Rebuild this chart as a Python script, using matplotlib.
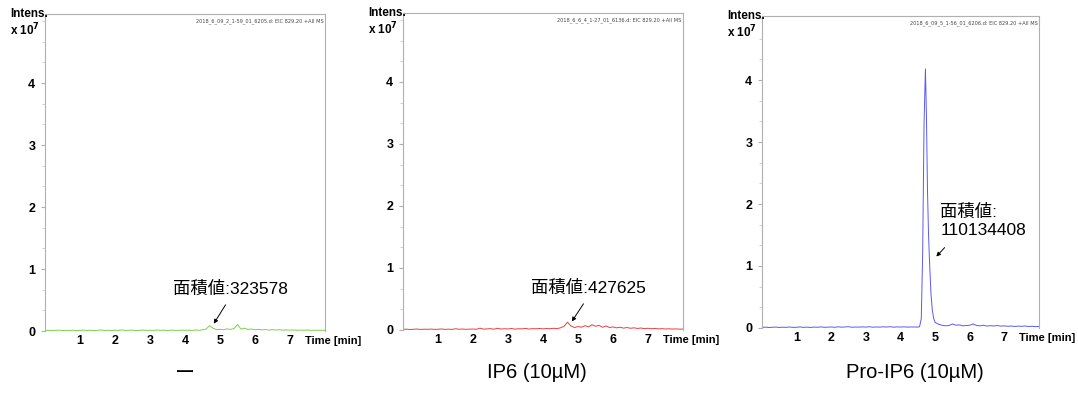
import numpy as np
import matplotlib
matplotlib.use("Agg")
import matplotlib.pyplot as plt
from matplotlib.ticker import AutoMinorLocator

# retention time grid (min) and EIC intensities (x 10^7)
time_grid = np.round(np.arange(0, 8.01, 0.1), 1)

green_int = [0.008, 0.012, 0.006, 0.010, 0.014, 0.007, 0.011, 0.009, 0.013, 0.006,
             0.010, 0.015, 0.008, 0.012, 0.007, 0.011, 0.016, 0.009, 0.012, 0.008,
             0.013, 0.010, 0.017, 0.009, 0.012, 0.014, 0.008, 0.011, 0.015, 0.010,
             0.012, 0.009, 0.016, 0.011, 0.013, 0.008, 0.014, 0.012, 0.010, 0.015,
             0.011, 0.014, 0.009, 0.016, 0.012, 0.018, 0.030, 0.085, 0.045, 0.022,
             0.028, 0.020, 0.035, 0.025, 0.040, 0.105, 0.030, 0.045, 0.025, 0.032,
             0.020, 0.028, 0.018, 0.024, 0.015, 0.022, 0.016, 0.020, 0.013, 0.018,
             0.014, 0.017, 0.011, 0.015, 0.012, 0.016, 0.010, 0.013, 0.011, 0.012,
             0.010]

red_int = [0.010, 0.014, 0.008, 0.012, 0.016, 0.009, 0.013, 0.011, 0.015, 0.010,
           0.012, 0.017, 0.010, 0.014, 0.009, 0.020, 0.012, 0.016, 0.011, 0.014,
           0.015, 0.012, 0.030, 0.014, 0.018, 0.022, 0.013, 0.028, 0.016, 0.020,
           0.017, 0.024, 0.014, 0.020, 0.018, 0.026, 0.015, 0.022, 0.019, 0.025,
           0.018, 0.024, 0.020, 0.028, 0.022, 0.035, 0.060, 0.125, 0.065, 0.040,
           0.055, 0.045, 0.070, 0.050, 0.085, 0.060, 0.075, 0.045, 0.065, 0.040,
           0.050, 0.035, 0.045, 0.030, 0.040, 0.028, 0.035, 0.025, 0.032, 0.022,
           0.028, 0.020, 0.025, 0.018, 0.022, 0.016, 0.020, 0.015, 0.018, 0.014,
           0.015]

blue_time = list(np.round(np.arange(0, 4.51, 0.1), 1)) + \
    [4.55, 4.60, 4.64, 4.68, 4.72, 4.75, 4.78, 4.81, 4.84, 4.88, 4.92, 4.96, 5.00] + \
    list(np.round(np.arange(5.1, 8.01, 0.1), 1))
blue_int = [0.010, 0.014, 0.008, 0.012, 0.015, 0.009, 0.013, 0.011, 0.016, 0.010,
            0.012, 0.017, 0.010, 0.014, 0.009, 0.015, 0.012, 0.018, 0.011, 0.014,
            0.016, 0.012, 0.019, 0.013, 0.017, 0.021, 0.012, 0.016, 0.014, 0.018,
            0.015, 0.020, 0.013, 0.017, 0.014, 0.019, 0.016, 0.021, 0.013, 0.018,
            0.015, 0.019, 0.014, 0.017, 0.016, 0.015,
            0.02, 0.15, 1.2, 3.3, 4.18, 3.4, 2.2, 1.5, 1.05, 0.55, 0.28, 0.15, 0.09,
            0.060, 0.045, 0.035, 0.040, 0.065, 0.045, 0.050, 0.035, 0.040, 0.045,
            0.065, 0.040, 0.035, 0.045, 0.030, 0.038, 0.032, 0.040, 0.030, 0.035,
            0.028, 0.032, 0.025, 0.030, 0.027, 0.033, 0.024, 0.028, 0.022, 0.025]

headers = ["2018_6_09_2_1-59_01_6205.d: EIC 829.20 +All MS",
           "2018_6_6_4_1-27_01_6136.d: EIC 829.20 +All MS",
           "2018_6_09_5_1-56_01_6206.d: EIC 829.20 +All MS"]
area_labels = ["面積値:323578", "面積値:427625", "面積値:\n110134408"]
conditions = ["ー", "IP6 (10µM)", "Pro-IP6 (10µM)"]
colors = ["#7ccf4e", "#e8403f", "#5a5af0"]

W, H = 1078, 405
fig = plt.figure(figsize=(W / 100, H / 100), dpi=100)

# axes boxes in pixels: left, top, right, bottom
boxes = [(45, 14, 325, 331), (403, 13, 683, 330), (762, 16, 1039, 328)]
# annotation: text pos (data), arrow start (data), arrow tip (data)
ann = [((3.65, 0.68), (5.2, 0.46), (4.78, 0.08)),
       ((3.65, 0.68), (5.2, 0.46), (4.78, 0.1)),
       ((5.15, 1.73), (5.33, 1.33), (4.98, 1.12))]

label_font = ["Liberation Sans", "Noto Sans CJK JP"]
series = [(time_grid, green_int), (time_grid, red_int), (blue_time, blue_int)]

for k, (l, t, r, b) in enumerate(boxes):
    ax = fig.add_axes([l / W, 1 - b / H, (r - l) / W, (b - t) / H])
    x, y = series[k]
    ax.plot(x, y, color=colors[k], lw=0.7)
    ax.set_xlim(0, 8)
    ax.set_ylim(0, (b - t) / 62.0)
    for side in ["left", "top", "right"]:
        ax.spines[side].set_color("#b0b0b0")
        ax.spines[side].set_linewidth(0.8)
    ax.spines["bottom"].set_visible(False)
    ax.set_xticks([1, 2, 3, 4, 5, 6, 7])
    ax.set_yticks([0, 1, 2, 3, 4])
    ax.yaxis.set_minor_locator(AutoMinorLocator(3))
    ax.tick_params(axis="x", length=0, pad=3)
    ax.tick_params(axis="y", which="major", length=3, color="#b0b0b0", pad=4)
    ax.tick_params(axis="y", which="minor", length=2, color="#c8c8c8")
    for lab in ax.get_xticklabels() + ax.get_yticklabels():
        lab.set_fontweight("bold")
        lab.set_fontsize(9)
        lab.set_family("Liberation Sans")

    ax.text(0.995, 0.985, headers[k], transform=ax.transAxes, ha="right",
            va="top", fontsize=3.6, color="#444444")
    ax.annotate("Time [min]", xy=(7.42, 0), xycoords=("data", "axes fraction"),
                xytext=(0, -7), textcoords="offset points", ha="left", va="center",
                fontsize=8, fontweight="bold", family="Liberation Sans")
    ax.text(-0.125, 1.0, "Intens.", transform=ax.transAxes, ha="left",
            va="center", fontsize=8.5, fontweight="bold", family="Liberation Sans")
    ax.text(-0.125, 0.95, "x 10$^{\\mathbf{7}}$", transform=ax.transAxes,
            ha="left", va="center", fontsize=8.5, fontweight="bold",
            family="Liberation Sans")

    (tx, ty), start, tip = ann[k]
    ax.text(tx, ty, area_labels[k], ha="left", va="center", fontsize=12.5,
            family=label_font, linespacing=1.25)
    ax.annotate("", xy=tip, xytext=start,
                arrowprops=dict(arrowstyle="-|>", color="black", lw=0.7,
                                mutation_scale=6))

# condition labels below panels
for cx, txt in zip([185, 537, 915], conditions):
    fig.text(cx / W, 1 - 373 / H, txt, ha="center", va="center", fontsize=14.5,
             family=label_font)

fig.savefig("out.png", dpi=100)
